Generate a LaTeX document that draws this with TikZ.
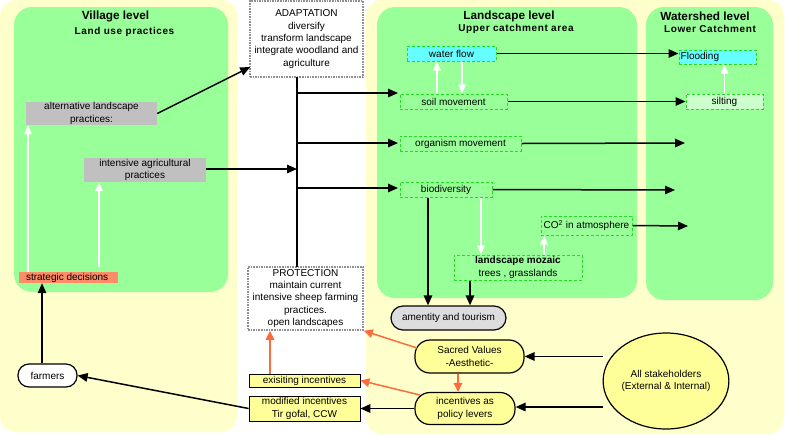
\documentclass[tikz,border=0pt]{standalone}
\usepackage{fontspec}
\setmainfont{Liberation Sans}
\newfontfamily\subheadfont{Liberation Sans}[LetterSpace=6]
\usetikzlibrary{arrows.meta,shapes.geometric}
\definecolor{bgy}{HTML}{FFFFCC}
\definecolor{pg}{HTML}{99FF99}
\definecolor{dg}{HTML}{22DD22}
\definecolor{cy}{HTML}{66FFFF}
\definecolor{lg}{HTML}{CCFFCC}
\definecolor{gb}{HTML}{C0C0C0}
\definecolor{sal}{HTML}{FF8C69}
\definecolor{yb}{HTML}{FFFF99}
\definecolor{org}{HTML}{FF6A3D}
\definecolor{am}{HTML}{DDDDDD}
\definecolor{dgray}{HTML}{909090}
\begin{document}
\begin{tikzpicture}[x=1pt,y=-1pt,
  every node/.style={font=\fontsize{10}{12.3}\selectfont, inner sep=0pt, align=center},
  head/.style={font=\fontsize{11.8}{13}\selectfont\bfseries},
  subhead/.style={font=\subheadfont\fontsize{10}{11}\selectfont\bfseries},
  gbox/.style={draw=dg, densely dashed, line width=1pt, fill=pg},
  graybox/.style={fill=gb},
  dashbox/.style={draw=dgray, densely dotted, line width=1.6pt, fill=white},
  ybox/.style={draw=black, line width=0.8pt, fill=yb},
  stad/.style={draw=black, line width=1.2pt, fill=yb, rounded corners=15pt},
  arr/.style={line width=1.5pt, -{Triangle[length=10pt,width=8.5pt]}},
  warr/.style={draw=white, line width=1.5pt, -{Triangle[length=9pt,width=7.5pt]}},
  oarr/.style={draw=org, line width=1.5pt, -{Triangle[length=9pt,width=8.5pt]}}
]
\useasboundingbox (0,0) rectangle (786,437);
\fill[white] (0,0) rectangle (786,437);
% panels
\fill[bgy, rounded corners=16pt] (0,0) rectangle (237,432);
\fill[bgy, rounded corners=16pt] (366,0) rectangle (784,434);
\fill[pg, rounded corners=18pt] (14,7) rectangle (228,292);
\fill[pg, rounded corners=18pt] (377,7) rectangle (637,298);
\fill[pg, rounded corners=18pt] (646,7) rectangle (773,300);
% headings
\node[head] (hv) at (115.5,16) {Village level};
\node[subhead] (hv2) at (124.5,32) {Land use practices};
\node[head] (hl) at (509,16) {Landscape level};
\node[subhead] (hl2) at (516,29) {Upper catchment area};
\node[head] (hw) at (705,16) {Watershed level};
\node[subhead] (hw2) at (710,29) {Lower Catchment};
% village nodes
\node[graybox, minimum width=131pt, minimum height=23pt] (alt) at (91.5,113.5) {alternative landscape\\practices:};
\node[graybox, minimum width=122pt, minimum height=24pt] (intens) at (145,170) {intensive agricultural\\practices};
\node[fill=sal, minimum width=99pt, minimum height=11pt] (strat) at (68.5,277.5) {};
\node[anchor=west] (stratt) at (strat.west) {\hspace{7pt}strategic decisions};
\node[draw=black, line width=1.2pt, fill=white, rounded corners=11pt, minimum width=59pt, minimum height=23pt] (farm) at (47.5,375.5) {farmers};
% middle nodes
\node[dashbox, minimum width=113pt, minimum height=76pt] (adapt) at (306.5,39) {ADAPTATION\\diversify\\transform landscape\\integrate woodland and\\agriculture};
\node[dashbox, minimum width=115pt, minimum height=63pt] (prot) at (305.5,298.5) {PROTECTION\\maintain current\\intensive sheep farming\\practices.\\open landscapes};
\node[ybox, minimum width=111pt, minimum height=13pt] (exist) at (304.5,380.5) {exisiting incentives};
\node[ybox, minimum width=111pt, minimum height=25pt] (modif) at (304.5,408.5) {modified incentives\\Tir gofal, CCW};
% landscape nodes
\node[gbox, fill=cy, minimum width=89pt, minimum height=15pt] (water) at (451.5,53.5) {water flow};
\node[gbox, minimum width=107pt, minimum height=15pt] (soil) at (453.5,101.5) {soil movement};
\node[gbox, minimum width=121pt, minimum height=15pt] (organ) at (460.5,143.5) {organism movement};
\node[gbox, minimum width=92pt, minimum height=15pt] (bio) at (446,189.5) {biodiversity};
\node[gbox, minimum width=91pt, minimum height=19pt] (co2) at (586.5,225.5) {CO\textsuperscript{2} in atmosphere};
\node[gbox, minimum width=128pt, minimum height=25pt] (moz) at (518,267.5) {\textbf{landscape mozaic}\\trees , grasslands};
\node[draw=black, line width=1.2pt, fill=am, rounded corners=12pt, minimum width=115pt, minimum height=24pt] (amen) at (448.5,318) {amentity and tourism};
% watershed nodes
\node[gbox, fill=cy, minimum width=77pt, minimum height=14pt] (flood) at (717.5,57) {};
\node[anchor=west] (floodt) at ([xshift=2pt]flood.west) {Flooding};
\node[gbox, fill=lg, minimum width=77pt, minimum height=15pt] (silt) at (724.5,101.5) {silting};
% bottom right
\node[stad, minimum width=109pt, minimum height=33pt] (sacred) at (469.5,356.5) {Sacred Values\\-Aesthetic-};
\node[stad, minimum width=100pt, minimum height=32pt] (policy) at (465,408.5) {incentives as\\policy levers};
\node[ellipse, draw=black, line width=1.2pt, fill=yb, minimum width=124pt, minimum height=96pt] (stake) at (666,381) {All stakeholders\\(External \& Internal)};
% coordinates
\coordinate (tTop) at (297,77);
\coordinate (tBot) at (297,267);
\coordinate (j1) at (297,93);
\coordinate (j2) at (297,143);
\coordinate (j3) at (297,188);
\coordinate (e1) at (398,93);
\coordinate (e2) at (398,143);
\coordinate (e3) at (398,188);
\coordinate (ti) at (297,169);
\coordinate (oe) at (685,143);
\coordinate (be) at (675,190);
\coordinate (ce) at (688,226);
% trunk
\draw[line width=1.5pt] (tTop) -- (tBot);
\draw[arr] (j1) -- (e1);
\draw[arr] (j2) -- (e2);
\draw[arr] (j3) -- (e3);
\draw[arr] (intens.east |- ti) -- (ti);
\draw[arr] (alt.east) -- ([xshift=1pt]adapt.west |- 0,67);
% landscape to watershed
\draw[arr] (water.east) -- (water.east -| flood.west);
\draw[arr] (soil.east) -- (soil.east -| silt.west);
\draw[arr] (organ.east) -- (oe);
\draw[arr] (bio.east) -- (be);
\draw[arr] (co2.east) -- (ce);
\draw[warr] (silt.north) -- (silt.north |- flood.south);
\draw[warr] (soil.north -| 437,0) -- (water.south -| 437,0);
\draw[warr] (water.south -| 462,0) -- (soil.north -| 462,0);
\draw[arr] (bio.south -| 428,0) -- (amen.north -| 428,0);
\draw[warr] (bio.south -| 481,0) -- (moz.north -| 481,0);
\draw[warr] (moz.north -| 544,0) -- (co2.south -| 544,0);
\draw[arr] (moz.south -| 470,0) -- (amen.north -| 470,0);
% village
\draw[warr] (strat.north -| 28,0) -- (alt.south -| 28,0);
\draw[warr] (99,267) -- (intens.south -| 99,0);
\draw[arr] (farm.north -| 42,0) -- (strat.south -| 42,0);
\draw[arr] (modif.west) -- (farm.east);
% bottom
\draw[arr] (policy.west) -- (modif.east);
\draw[arr] (stake.west |- sacred.east) -- (sacred.east);
\draw[arr] (stake.west |- 0,407) -- (policy.east |- 0,407);
\draw[oarr] (417,348) -- (prot.south east);
\draw[oarr] (420,395) -- (exist.east);
\draw[oarr] (sacred.south -| 458,0) -- (policy.north -| 458,0);
\draw[oarr] (exist.north -| 270,0) -- (prot.south -| 270,0);
\end{tikzpicture}
\end{document}
